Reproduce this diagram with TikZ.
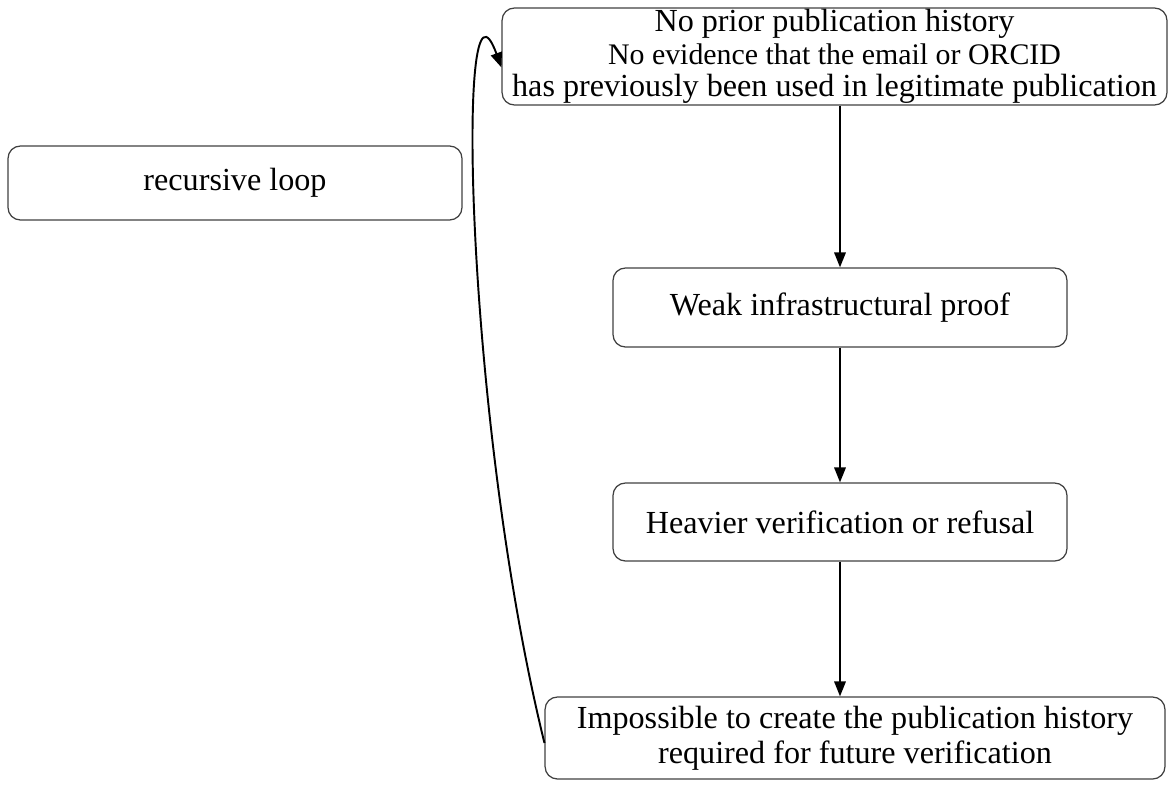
\documentclass[tikz,border=0pt]{standalone}
\usepackage{fontspec}
\setmainfont{Liberation Serif}
\usetikzlibrary{arrows.meta}
\begin{document}
\begin{tikzpicture}[x=0.02cm,y=-0.02cm,
  box/.style={draw=black!75, line width=0.7pt, rounded corners=7pt, inner sep=0pt, align=center,
    font=\fontsize{18.3}{20}\selectfont},
  tightbox/.style={box, font={\fontsize{18.3}{15.6}\selectfont\lineskiplimit=-30pt}},
  flow/.style={line width=1.1pt, -{Triangle[length=8.5pt,width=6.5pt]}}]
\useasboundingbox (0,0) rectangle (1169,784);
\node[tightbox, minimum width=13.3cm, minimum height=1.94cm] (top) at (834.5,56.5)
  {No prior publication history\\[3pt]
   {\fontsize{17}{15.6}\selectfont No evidence that the email or ORCID}\\[3pt]
   has previously been used in legitimate publication};
\node[box, minimum width=9.08cm, minimum height=1.48cm] (loop) at (235,183) {recursive loop};
\node[box, minimum width=9.08cm, minimum height=1.58cm] (weak) at (840,307.5) {Weak infrastructural proof};
\node[box, minimum width=9.08cm, minimum height=1.56cm] (heavy) at (840,522) {Heavier verification or refusal};
\node[box, minimum width=12.4cm, minimum height=1.64cm] (imp) at (855,738)
  {Impossible to create the publication history\\required for future verification};
\draw[flow] (top.south -| weak.north) -- (weak.north);
\draw[flow] (weak.south) -- (heavy.north);
\draw[flow] (heavy.south) -- (imp.north -| heavy.south);
\draw[flow] ([yshift=-0.1cm]imp.west) .. controls (465,420) and (455,-60) .. ([yshift=-0.22cm]top.west);
\end{tikzpicture}
\end{document}
